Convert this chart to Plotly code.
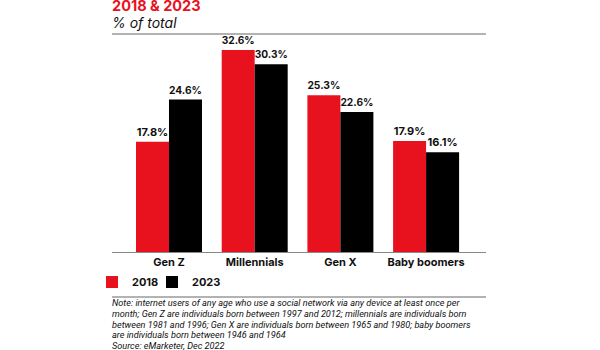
import plotly.graph_objects as go

categories = ["Gen Z", "Millennials", "Gen X", "Baby boomers"]
series_2018 = [17.8, 32.6, 25.3, 17.9]
series_2023 = [24.6, 30.3, 22.6, 16.1]
series_names = ["2018", "2023"]
note_lines = [
    "Note: internet users of any age who use a social network via any device at least once per",
    "month; Gen Z are individuals born between 1997 and 2012; millennials are individuals born",
    "between 1981 and 1996; Gen X are individuals born between 1965 and 1980; baby boomers",
    "are individuals born between 1946 and 1964",
    "Source: eMarketer, Dec 2022",
]

RED = "#e8111e"
BLACK = "#000000"
FONT = "Inter"

W, H = 600, 350
def py(px):
    return (H - px) / H
def pxx(px):
    return px / W

fig = go.Figure()
fig.add_trace(go.Bar(name="<b>%s</b>" % series_names[0], x=categories, y=series_2018,
                     marker_color=RED, marker_line_width=0, legend="legend",
                     texttemplate="<b>%{y:.1f}%</b>", textposition="outside",
                     textfont=dict(family=FONT, size=11, color="#111"), cliponaxis=False))
fig.add_trace(go.Bar(name="<b>%s</b>" % series_names[1], x=categories, y=series_2023,
                     marker_color=BLACK, marker_line_width=0, legend="legend2",
                     texttemplate="<b>%{y:.1f}%</b>", textposition="outside",
                     textfont=dict(family=FONT, size=11, color="#111"), cliponaxis=False))

legend_common = dict(orientation="h", yanchor="middle", y=py(282),
                     font=dict(family=FONT, size=11, color="#111"),
                     bgcolor="rgba(0,0,0,0)", borderwidth=0, xanchor="left")

annotations = [
    dict(text="<b>2018 & 2023</b>", x=pxx(110), y=py(16), xref="paper", yref="paper",
         xanchor="left", yanchor="bottom", showarrow=False,
         font=dict(family=FONT, size=14.5, color=RED)),
    dict(text="<i>% of total</i>", x=pxx(110), y=py(22.5), xref="paper", yref="paper",
         xanchor="left", yanchor="middle", showarrow=False,
         font=dict(family=FONT, size=14, color="#111")),
]
for i, line in enumerate(note_lines):
    annotations.append(dict(text="<i>" + line + "</i>", x=pxx(110), y=py(302.8 + 10.85 * i),
                            xref="paper", yref="paper", xanchor="left", yanchor="middle",
                            align="left", showarrow=False,
                            font=dict(family="Roboto", size=9.15, color="#111")))

fig.update_layout(
    width=W, height=H,
    margin=dict(l=0, r=0, t=0, b=0),
    paper_bgcolor="white", plot_bgcolor="white",
    barmode="group", bargap=0.23, bargroupgap=0,
    font=dict(family=FONT, color="#111"),
    xaxis=dict(domain=[pxx(112), pxx(486)], range=[-0.665, 3.699],
               tickmode="array", tickvals=categories,
               ticktext=["<b>%s</b>" % c for c in categories],
               tickfont=dict(family=FONT, size=11, color="#111"),
               showline=True, linecolor="#888", linewidth=1, ticks="",
               showgrid=False, fixedrange=True),
    yaxis=dict(domain=[py(252), py(36)], range=[0, 34.86], visible=False,
               showgrid=False, fixedrange=True),
    showlegend=True,
    legend=dict(x=pxx(92), **legend_common),
    legend2=dict(x=pxx(152), **legend_common),
    annotations=annotations,
    shapes=[
        dict(type="line", xref="paper", yref="paper", x0=pxx(112), x1=pxx(486),
             y0=py(34), y1=py(34), line=dict(color="#666", width=1)),
        dict(type="line", xref="paper", yref="paper", x0=pxx(112), x1=pxx(486),
             y0=py(297), y1=py(297), line=dict(color="#666", width=1)),
    ],
)

fig.write_html("out.html")
